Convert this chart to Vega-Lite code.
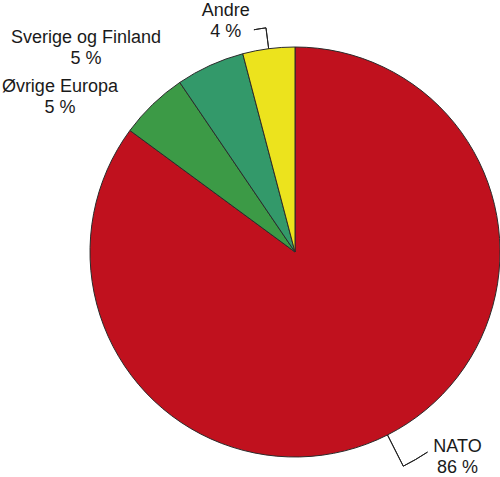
{
  "$schema": "https://vega.github.io/schema/vega-lite/v6.json",
  "width": 410,
  "height": 410,
  "autosize": {"type": "none"},
  "padding": {"left": 90, "top": 47, "right": 0, "bottom": 20},
  "background": "#ffffff",
  "view": {"stroke": null},
  "config": {
    "text": {"font": "Liberation Sans", "fontSize": 18, "color": "#1a1a1a", "lineBreak": "\n", "lineHeight": 21.5, "align": "center", "baseline": "alphabetic"}
  },
  "data": {
    "values": [
      {"region": "NATO", "share": 85.1, "label": "NATO\n86 %"},
      {"region": "Øvrige Europa", "share": 5.4, "label": "Øvrige Europa\n5 %"},
      {"region": "Sverige og Finland", "share": 5.4, "label": "Sverige og Finland\n5 %"},
      {"region": "Andre", "share": 4.1, "label": "Andre\n4 %"}
    ]
  },
  "transform": [
    {"stack": "share", "groupby": [], "as": ["s0", "s1"]},
    {"calculate": "(datum.s0 + datum.s1) / 2", "as": "mid"}
  ],
  "layer": [
    {
      "mark": {"type": "arc", "stroke": "#2b2b2b", "strokeWidth": 1},
      "encoding": {
        "theta": {"field": "s0", "type": "quantitative", "scale": {"domain": [0, 100]}},
        "theta2": {"field": "s1"},
        "color": {
          "field": "region",
          "type": "nominal",
          "scale": {
            "domain": ["NATO", "Øvrige Europa", "Sverige og Finland", "Andre"],
            "range": ["#c0111e", "#3c9a46", "#33996a", "#ece31d"]
          },
          "legend": null
        }
      }
    },
    {
      "transform": [{"filter": "datum.region === 'Andre'"}],
      "layer": [
        {
          "mark": {"type": "arc", "filled": false, "stroke": "#222222", "strokeWidth": 1, "radius": 226, "radius2": 205},
          "encoding": {
            "theta": {"field": "mid", "type": "quantitative", "scale": {"domain": [0, 100]}},
            "theta2": {"field": "mid"}
          }
        },
        {
          "mark": {"type": "arc", "filled": false, "stroke": "#222222", "strokeWidth": 1, "radius": 226, "radius2": 226, "thetaOffset": -0.054},
          "encoding": {
            "theta": {"field": "mid", "type": "quantitative", "scale": {"domain": [0, 100]}},
            "theta2": {"field": "mid"}
          }
        },
        {
          "mark": {"type": "text", "radius": 246, "thetaOffset": -0.157},
          "encoding": {
            "theta": {"field": "mid", "type": "quantitative", "scale": {"domain": [0, 100]}},
            "text": {"field": "label"}
          }
        }
      ]
    },
    {
      "transform": [{"filter": "datum.region === 'Sverige og Finland'"}],
      "mark": {"type": "text", "radius": 295.8, "thetaOffset": -0.357},
      "encoding": {
        "theta": {"field": "mid", "type": "quantitative", "scale": {"domain": [0, 100]}},
        "text": {"field": "label"}
      }
    },
    {
      "transform": [{"filter": "datum.region === 'Øvrige Europa'"}],
      "mark": {"type": "text", "radius": 284.5, "thetaOffset": -0.206},
      "encoding": {
        "theta": {"field": "mid", "type": "quantitative", "scale": {"domain": [0, 100]}},
        "text": {"field": "label"}
      }
    },
    {
      "transform": [{"filter": "datum.region === 'NATO'"}],
      "layer": [
        {
          "mark": {"type": "arc", "filled": false, "stroke": "#222222", "strokeWidth": 1, "radius": 240, "radius2": 205},
          "encoding": {
            "theta": {"field": "mid", "type": "quantitative", "scale": {"domain": [0, 100]}},
            "theta2": {"field": "mid"}
          }
        },
        {
          "mark": {"type": "arc", "filled": false, "stroke": "#222222", "strokeWidth": 1, "radius": 240, "radius2": 240, "thetaOffset": -0.117},
          "encoding": {
            "theta": {"field": "mid", "type": "quantitative", "scale": {"domain": [0, 100]}},
            "theta2": {"field": "mid"}
          }
        },
        {
          "mark": {"type": "text", "radius": 257.5, "thetaOffset": -0.215},
          "encoding": {
            "theta": {"field": "mid", "type": "quantitative", "scale": {"domain": [0, 100]}},
            "text": {"field": "label"}
          }
        }
      ]
    }
  ]
}
